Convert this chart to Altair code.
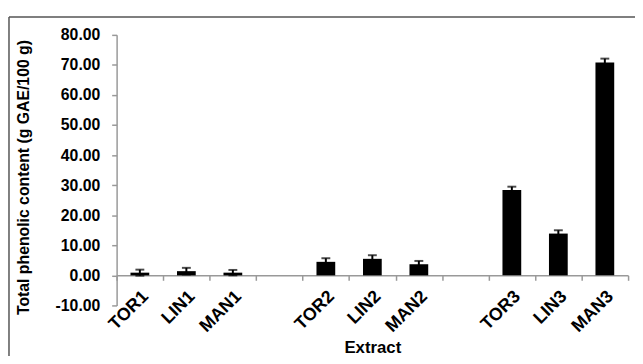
import altair as alt
import pandas as pd

# Data
extracts = ["TOR1", "LIN1", "MAN1", "TOR2", "LIN2", "MAN2", "TOR3", "LIN3", "MAN3"]
phenolic = [0.9, 1.4, 0.9, 4.5, 5.5, 3.7, 28.4, 13.9, 70.8]
errors = [1.0, 1.1, 0.9, 1.2, 1.2, 1.1, 1.1, 1.1, 1.3]
# category order on the axis, with two empty (blank-named) slots between the groups
axis_order = ["TOR1", "LIN1", "MAN1", " ", "TOR2", "LIN2", "MAN2", "  ", "TOR3", "LIN3", "MAN3"]
y_ticks = [-10, 0, 10, 20, 30, 40, 50, 60, 70, 80]

df = pd.DataFrame({"Extract": extracts, "mean": phenolic, "err": errors})
df["lo"] = df["mean"] - df["err"]
df["hi"] = df["mean"] + df["err"]

W, H = 518, 274
FONT = "Liberation Sans"
ZERO_OFFSET = -(H * 10 / 90)  # put the category axis on the zero line

x_scale = alt.Scale(domain=axis_order, paddingInner=0, paddingOuter=0)
y_scale = alt.Scale(domain=[-10, 80], nice=False, zero=False)

x_axis = alt.Axis(
    title="Extract",
    titleFont=FONT, titleFontSize=17, titleFontWeight="bold", titleColor="black",
    titleY=78, titleBaseline="alphabetic",
    labelAngle=315, labelAlign="right", labelBaseline="top",
    labelOffset=-1, labelPadding=7, labelOverlap=False,
    labelFont=FONT, labelFontSize=18, labelFontWeight="bold", labelColor="black",
    tickBand="extent", tickSize=5, tickColor="#999", tickWidth=1.5,
    domainColor="#999", domainWidth=1.5,
    offset=ZERO_OFFSET,
    grid=False,
)

y_axis = alt.Axis(
    title="Total phenolic content (g GAE/100 g)",
    titleFont=FONT, titleFontSize=16, titleFontWeight="bold", titleColor="black",
    titleX=-94, titleY=144, titleAngle=270, titleAlign="center", titleBaseline="middle",
    values=y_ticks,
    format=".2f",
    labelOverlap=False,
    labelFont=FONT, labelFontSize=16, labelFontWeight="bold", labelColor="black",
    labelPadding=12,
    tickSize=5, tickColor="#999", tickWidth=1.5,
    domainColor="#999", domainWidth=1.5,
    grid=False,
)

base = alt.Chart(df)

bars = base.mark_bar(color="black", size=19).encode(
    x=alt.X("Extract:N", scale=x_scale, sort=axis_order, axis=x_axis),
    y=alt.Y("mean:Q", scale=y_scale, axis=y_axis),
)

rule = base.mark_rule(color="black", strokeWidth=2).encode(
    x=alt.X("Extract:N", scale=x_scale, sort=axis_order, axis=x_axis),
    y=alt.Y("lo:Q", scale=y_scale, axis=y_axis),
    y2="hi:Q",
)
cap_hi = base.mark_tick(color="black", size=9, thickness=2).encode(
    x=alt.X("Extract:N", scale=x_scale, sort=axis_order, axis=x_axis),
    y=alt.Y("hi:Q", scale=y_scale, axis=y_axis),
)
cap_lo = base.mark_tick(color="black", size=9, thickness=2).encode(
    x=alt.X("Extract:N", scale=x_scale, sort=axis_order, axis=x_axis),
    y=alt.Y("lo:Q", scale=y_scale, axis=y_axis),
)

# outer frame of the figure (left and top edges)
frame_src = alt.Chart(pd.DataFrame({"k": [0]}))
frame_left = frame_src.mark_rule(color="#555", strokeWidth=1.5).encode(
    x=alt.value(-109), y=alt.value(-18), y2=alt.value(H + 80)
)
frame_top = frame_src.mark_rule(color="#555", strokeWidth=1.5).encode(
    x=alt.value(-109), x2=alt.value(W + 40), y=alt.value(-18)
)

chart = alt.layer(bars, rule, cap_hi, cap_lo, frame_left, frame_top).properties(
    width=W, height=H,
    autosize=alt.AutoSizeParams(type="none"),
    padding={"left": 110, "top": 25, "right": 7, "bottom": 49},
).configure_view(stroke=None).configure_axisY(labelOverlap=False)

chart.save("out.html", embed_options={
    "renderer": "svg", "actions": False,
    "formatLocale": {"decimal": ".", "thousands": ",", "grouping": [3],
                     "currency": ["$", ""], "minus": "-"},
})
